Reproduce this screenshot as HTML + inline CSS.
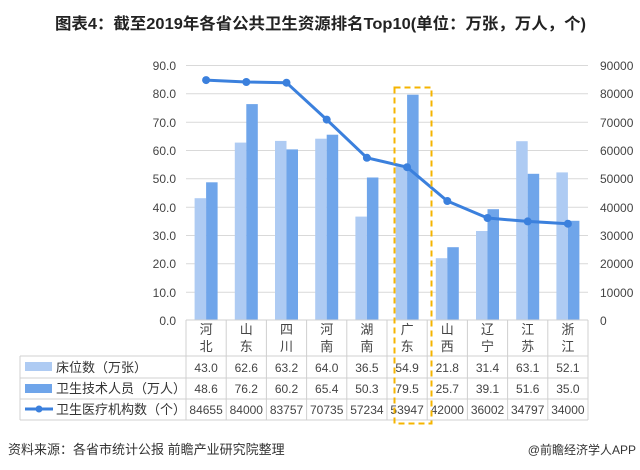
<!DOCTYPE html>
<html><head><meta charset="utf-8"><style>
body{margin:0;background:#fff}
svg{display:block;font-family:"Liberation Sans","Noto Sans CJK SC",sans-serif}
</style></head><body>
<svg width="640" height="470" viewBox="0 0 640 470" xmlns="http://www.w3.org/2000/svg">
<rect width="640" height="470" fill="#fff"/>
<text x="55" y="29" font-size="16" font-weight="bold" fill="#222" textLength="531" lengthAdjust="spacingAndGlyphs">图表4：截至2019年各省公共卫生资源排名Top10(单位：万张，万人，个)</text>
<g stroke="#d9d9d9" stroke-width="1">
<line x1="186" y1="65.5" x2="588" y2="65.5"/><line x1="186" y1="93.8" x2="588" y2="93.8"/><line x1="186" y1="122.2" x2="588" y2="122.2"/><line x1="186" y1="150.5" x2="588" y2="150.5"/><line x1="186" y1="178.8" x2="588" y2="178.8"/><line x1="186" y1="207.2" x2="588" y2="207.2"/><line x1="186" y1="235.5" x2="588" y2="235.5"/><line x1="186" y1="263.8" x2="588" y2="263.8"/><line x1="186" y1="292.2" x2="588" y2="292.2"/>
</g>
<g font-size="12" fill="#444" text-anchor="end">
<text x="176" y="70">90.0</text><text x="176" y="98">80.0</text><text x="176" y="127">70.0</text><text x="176" y="155">60.0</text><text x="176" y="183">50.0</text><text x="176" y="212">40.0</text><text x="176" y="240">30.0</text><text x="176" y="268">20.0</text><text x="176" y="297">10.0</text><text x="176" y="325">0.0</text>
</g>
<g font-size="12" fill="#444">
<text x="600" y="70">90000</text><text x="600" y="98">80000</text><text x="600" y="127">70000</text><text x="600" y="155">60000</text><text x="600" y="183">50000</text><text x="600" y="212">40000</text><text x="600" y="240">30000</text><text x="600" y="268">20000</text><text x="600" y="297">10000</text><text x="600" y="325">0</text>
</g>
<g fill="#aecbf3">
<rect x="194.6" y="198.2" width="11.5" height="121.8"/><rect x="234.8" y="142.6" width="11.5" height="177.4"/><rect x="275" y="140.9" width="11.5" height="179.1"/><rect x="315.2" y="138.7" width="11.5" height="181.3"/><rect x="355.4" y="216.6" width="11.5" height="103.4"/><rect x="395.6" y="164.5" width="11.5" height="155.5"/><rect x="435.8" y="258.2" width="11.5" height="61.8"/><rect x="476" y="231" width="11.5" height="89"/><rect x="516.2" y="141.2" width="11.5" height="178.8"/><rect x="556.4" y="172.4" width="11.5" height="147.6"/>
</g>
<g fill="#6fa5ea">
<rect x="206.1" y="182.3" width="11.5" height="137.7"/><rect x="246.3" y="104.1" width="11.5" height="215.9"/><rect x="286.5" y="149.4" width="11.5" height="170.6"/><rect x="326.7" y="134.7" width="11.5" height="185.3"/><rect x="366.9" y="177.5" width="11.5" height="142.5"/><rect x="407.1" y="94.7" width="11.5" height="225.3"/><rect x="447.3" y="247.2" width="11.5" height="72.8"/><rect x="487.5" y="209.2" width="11.5" height="110.8"/><rect x="527.7" y="173.8" width="11.5" height="146.2"/><rect x="567.9" y="220.8" width="11.5" height="99.2"/>
</g>
<polyline fill="none" stroke="#3b80dd" stroke-width="3" stroke-linejoin="round" points="206.1,80.1 246.3,82 286.5,82.7 326.7,119.6 366.9,157.8 407.1,167.2 447.3,201 487.5,218 527.7,221.4 567.9,223.7"/>
<g fill="#3b80dd">
<circle cx="206.1" cy="80.1" r="4"/><circle cx="246.3" cy="82" r="4"/><circle cx="286.5" cy="82.7" r="4"/><circle cx="326.7" cy="119.6" r="4"/><circle cx="366.9" cy="157.8" r="4"/><circle cx="407.1" cy="167.2" r="4"/><circle cx="447.3" cy="201" r="4"/><circle cx="487.5" cy="218" r="4"/><circle cx="527.7" cy="221.4" r="4"/><circle cx="567.9" cy="223.7" r="4"/>
</g>
<g stroke="#d0d0d0" stroke-width="1">
<line x1="186" y1="320" x2="588" y2="320"/>
<line x1="20" y1="356" x2="588" y2="356"/><line x1="20" y1="378" x2="588" y2="378"/><line x1="20" y1="399" x2="588" y2="399"/><line x1="20" y1="420" x2="588" y2="420"/>
<line x1="20" y1="356" x2="20" y2="420"/>
<line x1="186" y1="320" x2="186" y2="420"/><line x1="226.2" y1="320" x2="226.2" y2="420"/><line x1="266.4" y1="320" x2="266.4" y2="420"/><line x1="306.6" y1="320" x2="306.6" y2="420"/><line x1="346.8" y1="320" x2="346.8" y2="420"/><line x1="387" y1="320" x2="387" y2="420"/><line x1="427.2" y1="320" x2="427.2" y2="420"/><line x1="467.4" y1="320" x2="467.4" y2="420"/><line x1="507.6" y1="320" x2="507.6" y2="420"/><line x1="547.8" y1="320" x2="547.8" y2="420"/><line x1="588" y1="320" x2="588" y2="420"/>
</g>
<g font-size="13" fill="#444" text-anchor="middle">
<text x="206.1" y="334">河</text><text x="206.1" y="351">北</text>
<text x="246.3" y="334">山</text><text x="246.3" y="351">东</text>
<text x="286.5" y="334">四</text><text x="286.5" y="351">川</text>
<text x="326.7" y="334">河</text><text x="326.7" y="351">南</text>
<text x="366.9" y="334">湖</text><text x="366.9" y="351">南</text>
<text x="407.1" y="334">广</text><text x="407.1" y="351">东</text>
<text x="447.3" y="334">山</text><text x="447.3" y="351">西</text>
<text x="487.5" y="334">辽</text><text x="487.5" y="351">宁</text>
<text x="527.7" y="334">江</text><text x="527.7" y="351">苏</text>
<text x="567.9" y="334">浙</text><text x="567.9" y="351">江</text>
</g>
<g font-size="12" fill="#444" text-anchor="middle">
<text x="206.1" y="372">43.0</text><text x="246.3" y="372">62.6</text><text x="286.5" y="372">63.2</text><text x="326.7" y="372">64.0</text><text x="366.9" y="372">36.5</text><text x="407.1" y="372">54.9</text><text x="447.3" y="372">21.8</text><text x="487.5" y="372">31.4</text><text x="527.7" y="372">63.1</text><text x="567.9" y="372">52.1</text>
<text x="206.1" y="393">48.6</text><text x="246.3" y="393">76.2</text><text x="286.5" y="393">60.2</text><text x="326.7" y="393">65.4</text><text x="366.9" y="393">50.3</text><text x="407.1" y="393">79.5</text><text x="447.3" y="393">25.7</text><text x="487.5" y="393">39.1</text><text x="527.7" y="393">51.6</text><text x="567.9" y="393">35.0</text>
<text x="206.1" y="414">84655</text><text x="246.3" y="414">84000</text><text x="286.5" y="414">83757</text><text x="326.7" y="414">70735</text><text x="366.9" y="414">57234</text><text x="407.1" y="414">53947</text><text x="447.3" y="414">42000</text><text x="487.5" y="414">36002</text><text x="527.7" y="414">34797</text><text x="567.9" y="414">34000</text>
</g>
<rect x="25" y="362" width="27" height="9" fill="#aecbf3"/>
<rect x="25" y="384" width="27" height="9" fill="#6fa5ea"/>
<line x1="25" y1="409" x2="53" y2="409" stroke="#3b80dd" stroke-width="3"/>
<circle cx="39" cy="409" r="3.5" fill="#3b80dd"/>
<g font-size="13" fill="#333">
<text x="56" y="372">床位数（万张）</text>
<text x="56" y="393">卫生技术人员（万人）</text>
<text x="56" y="414">卫生医疗机构数（个）</text>
</g>
<rect x="394.5" y="87.5" width="37" height="336" fill="none" stroke="#f5b400" stroke-width="2" stroke-dasharray="6,4"/>
<text x="8" y="454" font-size="13" fill="#333">资料来源：各省市统计公报 前瞻产业研究院整理</text>
<text x="636" y="454" font-size="12" fill="#333" text-anchor="end">@前瞻经济学人APP</text>
</svg>
</body></html>
